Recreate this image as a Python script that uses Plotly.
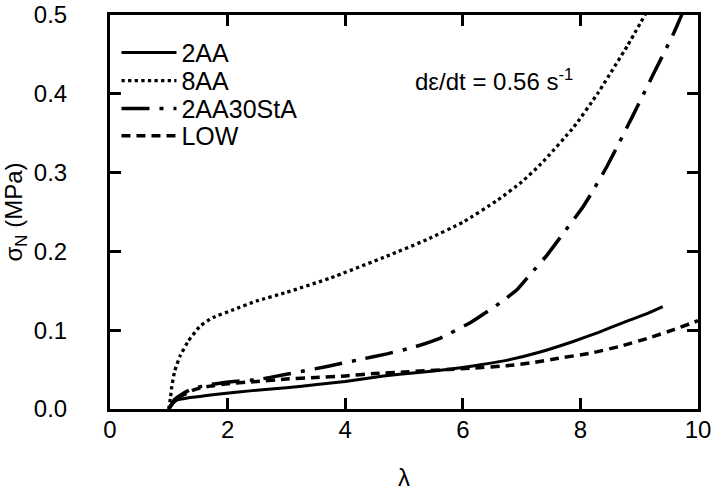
import plotly.graph_objects as go

# Nominal stress vs. stretch ratio for four samples
x_2aa = [1.0, 1.05, 1.13, 1.25, 1.4, 1.53, 1.75, 1.98, 2.38, 3.0, 3.52, 4.0, 4.65, 5.2, 5.73,
         6.2, 6.76, 7.3, 7.89, 8.3, 8.74, 9.1, 9.4]
y_2aa = [0.0, 0.006, 0.011, 0.013, 0.015, 0.016, 0.018, 0.020, 0.023, 0.027, 0.031, 0.035,
         0.042, 0.046, 0.050, 0.055, 0.062, 0.072, 0.086, 0.097, 0.110, 0.120, 0.130]

x_8aa = [1.0, 1.03, 1.05, 1.1, 1.19, 1.33, 1.53, 1.75, 2.1, 2.49, 3.0, 3.74, 4.71, 5.39,
         6.0, 6.59, 7.0, 7.33, 7.89, 8.29, 8.8, 9.12]
y_8aa = [0.0, 0.015, 0.028, 0.048, 0.067, 0.086, 0.105, 0.116, 0.126, 0.137, 0.148, 0.166,
         0.194, 0.215, 0.237, 0.265, 0.288, 0.311, 0.358, 0.400, 0.461, 0.503]

x_2aa30sta = [1.0, 1.1, 1.25, 1.41, 1.7, 2.1, 2.49, 3.0, 3.69, 4.2, 4.71, 5.19, 5.62, 6.16,
              6.64, 6.93, 7.15, 7.44, 7.72, 8.04, 8.23, 8.46, 8.66, 8.89, 9.09, 9.26, 9.43,
              9.6, 9.71, 9.78]
y_2aa30sta = [0.0, 0.012, 0.020, 0.026, 0.031, 0.035, 0.037, 0.044, 0.054, 0.062, 0.070,
              0.079, 0.090, 0.111, 0.135, 0.152, 0.171, 0.196, 0.224, 0.256, 0.279, 0.309,
              0.338, 0.372, 0.402, 0.428, 0.453, 0.479, 0.498, 0.510]

x_low = [1.0, 1.1, 1.25, 1.45, 1.7, 2.0, 2.5, 3.0, 3.5, 4.0, 4.5, 5.0, 5.73, 6.2, 6.76, 7.2,
         7.6, 8.18, 8.7, 9.2, 9.6, 10.0]
y_low = [0.0, 0.010, 0.018, 0.025, 0.029, 0.032, 0.035, 0.038, 0.040, 0.042, 0.045, 0.047,
         0.050, 0.052, 0.055, 0.059, 0.064, 0.071, 0.080, 0.091, 0.101, 0.112]

# name, x, y, dash pattern, width, legend id, legend row (paper y)
series = [
    ("2AA", x_2aa, y_2aa, "solid", 3, "legend", 0.904),
    ("8AA", x_8aa, y_8aa, "dot", 3.3, "legend2", 0.833),
    ("2AA30StA", x_2aa30sta, y_2aa30sta, "28px,10px,4px,10px", 3.5, "legend3", 0.762),
    ("LOW", x_low, y_low, "9px,6px", 3.5, "legend4", 0.693),
]

FONT = "Liberation Sans, Arial, sans-serif"

fig = go.Figure()
legends = {}
for name, xs, ys, dash, w, leg, row in series:
    fig.add_trace(go.Scatter(x=xs, y=ys, mode="lines", name=name, legend=leg,
                             line=dict(color="black", width=w, dash=dash,
                                       shape="spline", smoothing=0.4)))
    legends[leg] = dict(x=0.011, y=row, xanchor="left", yanchor="middle",
                        bgcolor="rgba(0,0,0,0)", itemwidth=55,
                        font=dict(family=FONT, size=25, color="black"))

axis_common = dict(
    showline=True, linecolor="black", linewidth=3, mirror="ticks",
    ticks="inside", ticklen=11, tickwidth=3, tickcolor="black",
    showgrid=False, zeroline=False, automargin=False, ticklabeloverflow="allow",
    tickfont=dict(family=FONT, size=24, color="black"),
)

fig.update_xaxes(range=[0, 10], dtick=2, tick0=0, ticklabelstandoff=-3,
                 title=dict(text="λ", font=dict(family=FONT, size=24, color="black"),
                            standoff=28),
                 **axis_common)
fig.update_yaxes(range=[0, 0.5], dtick=0.1, tick0=0, tickformat=".1f", ticklabelstandoff=35,
                 title=dict(text="σ<sub>N</sub> (MPa)",
                            font=dict(family=FONT, size=24, color="black"), standoff=5),
                 **axis_common)

fig.add_annotation(x=5.16, y=0.418, xref="x", yref="y", xanchor="left", yanchor="middle",
                   text="dε/dt = 0.56 s<sup>-1</sup>", showarrow=False,
                   font=dict(family=FONT, size=24, color="black"))

fig.update_layout(
    width=711, height=491,
    margin=dict(l=110, r=13, t=15, b=82),
    plot_bgcolor="white", paper_bgcolor="white",
    font=dict(family=FONT, size=24, color="black"),
    showlegend=True,
    **legends,
)

fig.write_html("out.html")
